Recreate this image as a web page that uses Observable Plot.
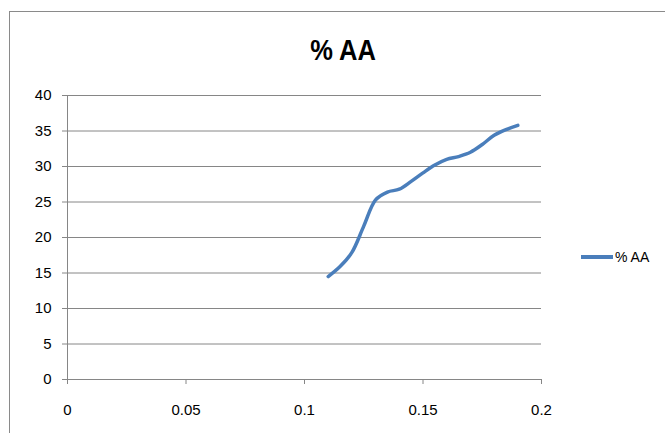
<!DOCTYPE html>
<html>
<head>
<meta charset="utf-8">
<script src="https://cdn.jsdelivr.net/npm/d3@7"></script>
<script src="https://cdn.jsdelivr.net/npm/@observablehq/plot@0.6"></script>
<style>
  html, body { margin: 0; padding: 0; background: #fff; }
  #wrap { position: relative; width: 665px; height: 433px; overflow: hidden; font-family: "Liberation Sans", Arial, sans-serif; }
  #frame { position: absolute; left: 9px; top: 11px; width: 700px; height: 500px; border: 1.5px solid #8a8a8a; box-sizing: border-box; }
  #title { position: absolute; left: 343px; top: 33px; transform: translateX(-50%) scaleX(0.88); white-space: nowrap; font-weight: bold; font-size: 29px; line-height: 34px; color: #000; }
  #legend { position: absolute; left: 581px; top: 249px; display: flex; align-items: center; font-size: 14px; color: #000; }
  #legend .sw { width: 32px; height: 4px; background: #4a7ebb; margin-right: 2px; }
  #chart { position: absolute; left: 0; top: 0; }
</style>
</head>
<body>
<div id="wrap">
  <div id="frame"></div>
  <div id="chart"></div>
  <div id="title"></div>
  <div id="legend"><div class="sw"></div><span id="legtext"></span></div>
</div>
<script>
const seriesName = "% AA";
const xValues = [0.11, 0.115, 0.12, 0.125, 0.13, 0.135, 0.14, 0.145, 0.15, 0.155, 0.16, 0.165, 0.17, 0.175, 0.18, 0.185, 0.19];
const yValues = [14.5, 15.9, 17.9, 21.6, 25.3, 26.4, 26.8, 27.9, 29.1, 30.2, 31.0, 31.4, 32.0, 33.1, 34.4, 35.2, 35.8];
const xTicks = [0, 0.05, 0.1, 0.15, 0.2];
const yTicks = [0, 5, 10, 15, 20, 25, 30, 35, 40];

const data = xValues.map((x, i) => ({x, y: yValues[i]}));

document.getElementById("title").textContent = seriesName;
document.getElementById("legtext").textContent = seriesName;

const chart = Plot.plot({
  width: 665,
  height: 433,
  marginLeft: 67,
  marginRight: 124,
  marginTop: 95,
  marginBottom: 54,
  style: {fontFamily: "Liberation Sans, Arial, sans-serif", fontSize: "15px", color: "#000", background: "transparent", overflow: "visible"},
  x: {domain: [0, 0.2], ticks: xTicks},
  y: {domain: [0, 40], ticks: yTicks},
  marks: [
    Plot.ruleY(yTicks, {stroke: "#868686", strokeWidth: 1, strokeOpacity: 1}),
    Plot.ruleX([0], {stroke: "#868686", strokeWidth: 1, strokeOpacity: 1}),
    Plot.axisY({ticks: yTicks, tickSize: 5, tickPadding: 11, stroke: "#868686", tickFormat: d => String(d), label: null, fill: "#000"}),
    Plot.axisX({ticks: xTicks, tickSize: 5, tickPadding: 20, stroke: "#868686", tickFormat: d => String(d), label: null, fill: "#000"}),
    Plot.line(data, {x: "x", y: "y", stroke: "#4a7ebb", strokeWidth: 3.5, curve: "catmull-rom"})
  ]
});
document.getElementById("chart").appendChild(chart);
</script>
</body>
</html>
